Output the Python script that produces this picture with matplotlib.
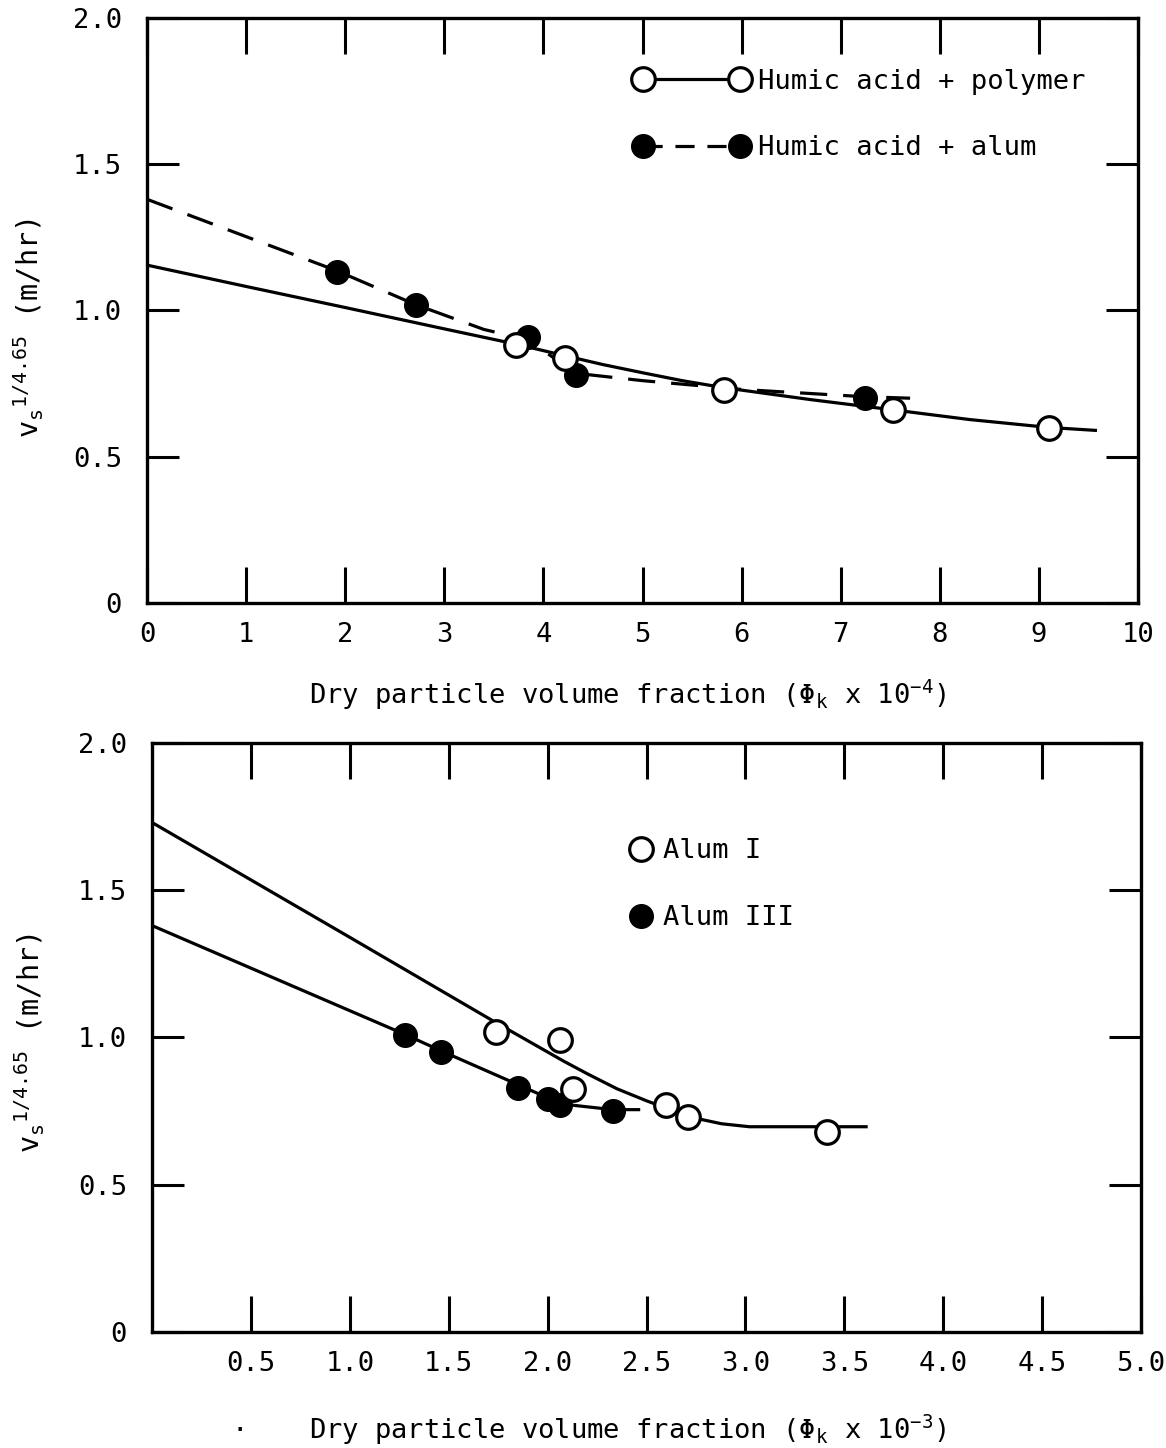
import matplotlib
matplotlib.use("Agg")
from matplotlib import pyplot as plt
from matplotlib.lines import Line2D

# ---- top panel data (phi_k x 1e-4) ----
poly_x = [3.72, 4.22, 5.82, 7.53, 9.10]
poly_y = [0.882, 0.838, 0.728, 0.660, 0.598]
alum_x = [1.92, 2.71, 3.84, 4.33, 7.24]
alum_y = [1.13, 1.02, 0.91, 0.78, 0.70]

# fitted curves
poly_fit_x = [0, 1, 2, 3, 3.72, 4.22, 4.6, 5.0, 5.4, 5.82, 6.7, 7.53, 8.3, 9.1, 9.57]
poly_fit_y = [1.155, 1.082, 1.01, 0.937, 0.885, 0.845, 0.815, 0.787, 0.76, 0.736, 0.695, 0.66,
              0.627, 0.600, 0.59]
alum_fit_x = [0, 1.92, 2.71, 3.4, 3.84, 4.33, 5.0, 6.0, 7.24, 7.7]
alum_fit_y = [1.38, 1.135, 1.02, 0.935, 0.90, 0.785, 0.76, 0.73, 0.705, 0.70]

# ---- bottom panel data (phi_k x 1e-3) ----
alum1_x = [1.74, 2.06, 2.13, 2.60, 2.71, 3.41]
alum1_y = [1.02, 0.99, 0.825, 0.77, 0.73, 0.68]
alum3_x = [1.28, 1.46, 1.85, 2.00, 2.06, 2.33]
alum3_y = [1.01, 0.95, 0.83, 0.79, 0.77, 0.75]

alum1_fit_x = [0, 1.0, 1.74, 2.08, 2.2, 2.35, 2.5, 2.62, 2.74, 2.88, 3.02, 3.3, 3.61]
alum1_fit_y = [1.73, 1.34, 1.05, 0.92, 0.877, 0.826, 0.785, 0.755, 0.727, 0.707, 0.697, 0.697,
               0.697]
alum3_fit_x = [0, 1.28, 1.46, 1.85, 2.0, 2.1, 2.33, 2.46]
alum3_fit_y = [1.38, 1.01, 0.955, 0.84, 0.795, 0.772, 0.755, 0.755]

top_xticks = list(range(0, 11))
bot_xticks = [0.5, 1.0, 1.5, 2.0, 2.5, 3.0, 3.5, 4.0, 4.5, 5.0]
yticks = [0, 0.5, 1.0, 1.5, 2.0]
ytick_labels = ["0", "0.5", "1.0", "1.5", "2.0"]

plt.rcParams["font.family"] = ["DejaVu Sans Mono", "DejaVu Sans"]
plt.rcParams["mathtext.fontset"] = "custom"
plt.rcParams["mathtext.rm"] = "DejaVu Sans Mono"
plt.rcParams["mathtext.it"] = "DejaVu Sans Mono"
plt.rcParams["mathtext.tt"] = "DejaVu Sans Mono"

FS = 19.5
LW = 2.3
MS = 17
DASH = (8.5, 5)

fig = plt.figure(figsize=(11.66, 14.48), dpi=100)
ax1 = fig.add_axes([0.1261, 0.5836, 0.8499, 0.4040])
ax2 = fig.add_axes([0.1304, 0.0801, 0.8482, 0.4068])

ylab = r"v$_\mathtt{s}$$^\mathtt{1/4.65}$ (m/hr)"


def style(ax):
    for sp in ax.spines.values():
        sp.set_linewidth(2.4)
    ax.tick_params(axis="x", which="both", direction="in", top=True, bottom=True,
                   length=26, width=2.2, pad=14, labelsize=FS)
    ax.tick_params(axis="y", which="both", direction="in", left=True, right=True,
                   length=23, width=2.2, pad=18, labelsize=FS)
    ax.set_ylim(0, 2.0)
    ax.set_yticks(yticks)
    ax.set_yticklabels(ytick_labels)


# top panel
style(ax1)
ax1.plot(poly_fit_x, poly_fit_y, color="black", lw=LW)
ax1.plot(alum_fit_x, alum_fit_y, color="black", lw=LW, dashes=DASH)
ax1.plot(alum_x, alum_y, "o", color="black", ms=MS)
ax1.plot(poly_x, poly_y, "o", mfc="white", mec="black", mew=2.3, ms=MS)
ax1.set_xlim(0, 10)
ax1.set_xticks(top_xticks)
ax1.set_xlabel(r"Dry particle volume fraction ($\Phi_k$ x 10$^{-4}$)", fontsize=FS)
ax1.xaxis.set_label_coords(0.485, -0.127)
ax1.set_ylabel(ylab, fontsize=FS + 1)
ax1.yaxis.set_label_coords(-0.102, 0.47)

h_poly = Line2D([], [], color="black", lw=LW, marker="o", mfc="white", mec="black",
                mew=2.3, ms=MS)
h_alum = Line2D([], [], color="black", lw=LW, linestyle=(0, (6, 4)), marker="o", ms=MS)
ax1.legend([h_poly, h_alum], ["Humic acid + polymer", "Humic acid + alum"],
           loc="upper left", bbox_to_anchor=(0.492, 0.913), frameon=False,
           numpoints=2, handlelength=4.2, handletextpad=0.35, labelspacing=1.5,
           borderpad=0, borderaxespad=0, fontsize=FS)

# bottom panel
style(ax2)
ax2.plot(alum1_fit_x, alum1_fit_y, color="black", lw=LW)
ax2.plot(alum3_fit_x, alum3_fit_y, color="black", lw=LW)
ax2.plot(alum3_x, alum3_y, "o", color="black", ms=MS)
ax2.plot(alum1_x, alum1_y, "o", mfc="white", mec="black", mew=2.3, ms=MS)
ax2.set_xlim(0, 5.0)
ax2.set_xticks(bot_xticks)
ax2.set_xticklabels([f"{v:.1f}" for v in bot_xticks])
ax2.set_xlabel(r"Dry particle volume fraction ($\Phi_k$ x 10$^{-3}$)", fontsize=FS)
ax2.xaxis.set_label_coords(0.481, -0.137)
ax2.set_ylabel(ylab, fontsize=FS + 1)
ax2.yaxis.set_label_coords(-0.106, 0.49)

h_a1 = Line2D([], [], ls="none", marker="o", mfc="white", mec="black", mew=2.3, ms=MS)
h_a3 = Line2D([], [], ls="none", marker="o", color="black", ms=MS)
ax2.legend([h_a1, h_a3], ["Alum I", "Alum III"],
           loc="upper left", bbox_to_anchor=(0.482, 0.838), frameon=False,
           numpoints=1, handlelength=0.9, handletextpad=0.35, labelspacing=1.5,
           borderpad=0, borderaxespad=0, fontsize=FS)

fig.text(240 / 1166, 1 - 1437 / 1448, ".", fontsize=FS, ha="center", va="bottom")

fig.savefig("out.png", dpi=100)
